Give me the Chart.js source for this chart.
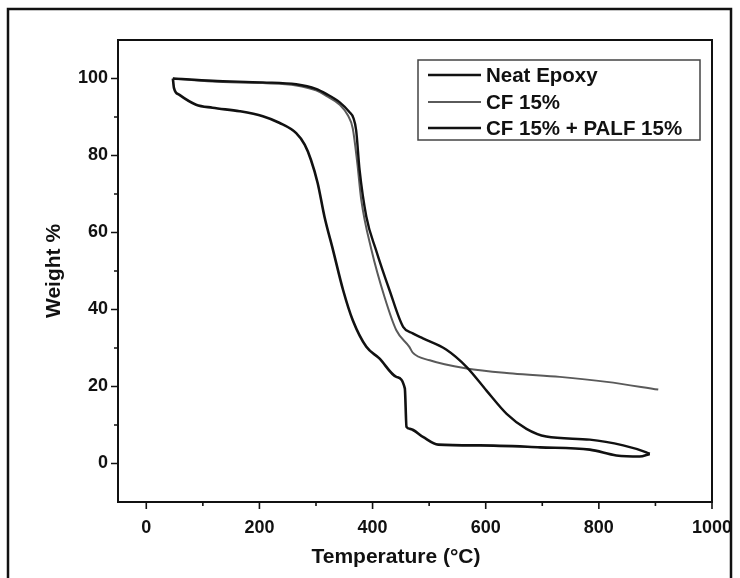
<!DOCTYPE html>
<html>
<head>
<meta charset="utf-8">
<script src="https://cdn.jsdelivr.net/npm/chart.js@4.4.0/dist/chart.umd.min.js"></script>
<style>
  html, body { margin: 0; padding: 0; background: #fff; }
  #wrap { width: 740px; height: 578px; }
</style>
</head>
<body>
<div id="wrap"><canvas id="myChart" width="740" height="578"></canvas></div>
<script>
// Datos (temperatura en °C, peso en %)
var nombres = ["Neat Epoxy", "CF 15%", "CF 15% + PALF 15%"];
var tituloX = "Temperature (°C)";
var tituloY = "Weight %";

var tempNeat = [47, 117, 206, 265, 300, 318, 342, 359, 366, 371, 377, 389, 406, 430, 454, 471, 489, 530, 566, 601, 637, 672, 707, 784, 843, 884, 890];
var pesoNeat = [100, 99.4, 99.0, 98.5, 97.3, 96.0, 93.8, 91.3, 89.8, 86.5, 76.3, 64.1, 55.5, 45, 35.5, 33.8, 32.5, 29.6, 25.1, 19.0, 12.9, 9.0, 7.0, 6.2, 4.7, 2.9, 2.5];

var tempCF = [47, 117, 206, 265, 300, 318, 342, 356, 365, 373, 380, 398, 421, 442, 465, 471, 501, 566, 648, 731, 814, 905];
var pesoCF = [100, 99.2, 98.8, 98.2, 96.9, 95.5, 93.2, 90.5, 87.0, 78, 68.5, 55.5, 43.3, 34.6, 30.3, 28.8, 26.8, 24.7, 23.4, 22.5, 21.2, 19.2];

var tempPalf = [47, 49, 58, 88, 117, 165, 206, 235, 265, 280, 291, 303, 315, 330, 348, 365, 389, 412, 442, 457, 460, 466, 489, 516, 589, 696, 784, 831, 872, 890];
var pesoPalf = [100, 97.5, 95.8, 93.2, 92.4, 91.5, 90.2, 88.5, 85.8, 82.8, 78.9, 72.8, 64.1, 55.5, 45, 37.2, 30.3, 27.3, 22.5, 19.5, 9.5, 9.0, 6.9, 4.9, 4.7, 4.2, 3.6, 2.1, 1.8, 2.5];

// Marcas de los ejes
var xTicks = [0, 200, 400, 600, 800, 1000];
var xMinor = [100, 300, 500, 700, 900];
var yTicks = [0, 20, 40, 60, 80, 100];
var yMinor = [10, 30, 50, 70, 90];

function puntos(xs, ys) {
    return xs.map(function (x, i) {
        return { x: x, y: ys[i] };
    });
}

var colores = ["#111111", "#5a5a5a", "#111111"];
var grosores = [2.4, 2.0, 2.6];

var fuente = "'Liberation Sans', Arial, sans-serif";

// Plugin: marco, marcas de eje, leyenda, título X y borde de la figura
var extras = {
    id: "extras",
    afterDraw: function (chart) {
        var c = chart.ctx;
        var a = chart.chartArea;
        var sx = chart.scales.x;
        var sy = chart.scales.y;
        c.save();
        c.strokeStyle = "#111";
        c.lineWidth = 2;
        c.strokeRect(a.left, a.top, a.right - a.left, a.bottom - a.top);

        // marcas de los ejes (mayores y menores)
        c.lineWidth = 1.6;
        c.beginPath();
        xTicks.forEach(function (v) {
            var p = sx.getPixelForValue(v);
            c.moveTo(p, a.bottom);
            c.lineTo(p, a.bottom + 7);
        });
        xMinor.forEach(function (v) {
            var p = sx.getPixelForValue(v);
            c.moveTo(p, a.bottom);
            c.lineTo(p, a.bottom + 4);
        });
        yTicks.forEach(function (v) {
            var p = sy.getPixelForValue(v);
            c.moveTo(a.left, p);
            c.lineTo(a.left - 7, p);
        });
        yMinor.forEach(function (v) {
            var p = sy.getPixelForValue(v);
            c.moveTo(a.left, p);
            c.lineTo(a.left - 4, p);
        });
        c.stroke();

        // título del eje X (algo desplazado a la izquierda como en el original)
        c.fillStyle = "#111";
        c.font = "bold 21px " + fuente;
        c.textAlign = "center";
        c.textBaseline = "middle";
        c.fillText(tituloX, 396, 557);

        // leyenda
        c.lineWidth = 1.5;
        c.strokeStyle = "#444";
        c.strokeRect(418, 60, 282, 80);
        c.font = "bold 20.5px " + fuente;
        c.textAlign = "left";
        var filas = [75, 102, 128];
        nombres.forEach(function (n, i) {
            c.strokeStyle = colores[i];
            c.lineWidth = grosores[i];
            c.beginPath();
            c.moveTo(428, filas[i]);
            c.lineTo(481, filas[i]);
            c.stroke();
            c.fillText(n, 486, filas[i] + 1);
        });

        // borde exterior
        c.strokeStyle = "#111";
        c.lineWidth = 2.5;
        c.strokeRect(8, 9, 723, 600);
        c.restore();
    }
};

var ctx = document.getElementById("myChart").getContext("2d");
var myChart = new Chart(ctx, {
    type: "line",
    data: {
        datasets: [
            { label: nombres[0], data: puntos(tempNeat, pesoNeat) },
            { label: nombres[1], data: puntos(tempCF, pesoCF) },
            { label: nombres[2], data: puntos(tempPalf, pesoPalf) }
        ].map(function (d, i) {
            d.borderColor = colores[i];
            d.borderWidth = grosores[i];
            d.pointRadius = 0;
            d.fill = false;
            d.cubicInterpolationMode = "monotone";
            return d;
        })
    },
    options: {
        responsive: false,
        animation: false,
        layout: { padding: { left: 0, right: 28, top: 40, bottom: 0 } },
        plugins: {
            legend: { display: false },
            tooltip: { enabled: false }
        },
        scales: {
            x: {
                type: "linear",
                min: -50,
                max: 1000,
                afterBuildTicks: function (s) {
                    s.ticks = xTicks.map(function (v) { return { value: v }; });
                },
                afterFit: function (s) {
                    s.height = 76;
                    s.paddingLeft = 0;
                    s.paddingRight = 0;
                },
                grid: { display: false, drawTicks: false },
                border: { display: false },
                ticks: {
                    padding: 15,
                    color: "#111",
                    font: { family: fuente, size: 18, weight: "bold" },
                    maxRotation: 0,
                    callback: function (v) { return String(v); }
                },
                title: { display: false }
            },
            y: {
                type: "linear",
                min: -10,
                max: 110,
                afterBuildTicks: function (s) {
                    s.ticks = yTicks.map(function (v) { return { value: v }; });
                },
                afterFit: function (s) {
                    s.width = 118;
                    s.paddingTop = 0;
                    s.paddingBottom = 0;
                },
                grid: { display: false, drawTicks: false },
                border: { display: false },
                ticks: {
                    padding: 10,
                    color: "#111",
                    font: { family: fuente, size: 18, weight: "bold" },
                    callback: function (v) { return String(v); }
                },
                title: {
                    display: true,
                    text: tituloY,
                    color: "#111",
                    font: { family: fuente, size: 21, weight: "bold" },
                    padding: { top: 42, bottom: 0 }
                }
            }
        }
    },
    plugins: [extras]
});
</script>
</body>
</html>
